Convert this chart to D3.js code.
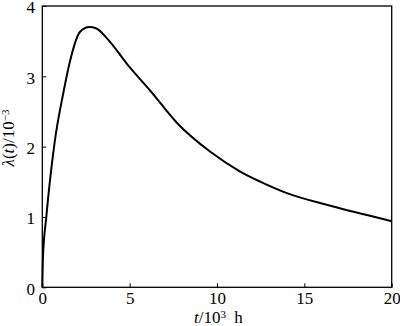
<!DOCTYPE html>
<html>
<head>
<meta charset="utf-8">
<script src="https://cdn.jsdelivr.net/npm/d3@7"></script>
<style>
  body { margin: 0; background: #fff; }
  #chart, #chart text, #chart tspan { font-family: "Liberation Serif", "Times New Roman", Tinos, serif; }
</style>
</head>
<body>
<svg id="chart" width="400" height="326" font-family="Liberation Serif"></svg>
<script>
// time in 10^3 h, failure rate in 10^-3
const tValues = [0, 0.04, 0.23, 0.7, 1.2, 1.6, 2.15, 2.7, 3.1, 3.7, 5.0, 6.2, 7.7, 9.6, 11.3, 12.5, 14.0, 16.5, 17.4, 18.7, 20]
const lambdaValues = [0, 0.44, 1.0, 2.05, 2.76, 3.23, 3.63, 3.70, 3.68, 3.54, 3.13, 2.79, 2.34, 1.93, 1.65, 1.50, 1.34, 1.16, 1.10, 1.02, 0.94]
const xTicks = [0, 5, 10, 15, 20]
const yTicks = [0, 1, 2, 3, 4]

const svg = d3.select("#chart")
const margin = { left: 42.3, right: 8.3, top: 6, bottom: 38.7 }
const w = 400 - margin.left - margin.right
const h = 326 - margin.top - margin.bottom

const x = d3.scaleLinear().domain([0, 20]).range([0, w])
const y = d3.scaleLinear().domain([0, 4]).range([h, 0])

const g = svg.append("g").attr("transform", `translate(${margin.left},${margin.top})`)

// frame
g.append("rect")
  .attr("width", w)
  .attr("height", h)
  .attr("fill", "none")
  .attr("stroke", "#000")
  .attr("stroke-width", 1.3)

const xAxis = g.append("g")
  .attr("transform", `translate(0,${h})`)
  .call(d3.axisBottom(x).tickValues(xTicks).tickFormat(d3.format("d"))
    .tickSizeInner(-4).tickSizeOuter(0).tickPadding(5))
const yAxis = g.append("g")
  .call(d3.axisLeft(y).tickValues(yTicks).tickFormat(d3.format("d"))
    .tickSizeInner(-4).tickSizeOuter(0).tickPadding(9))

for (const ax of [xAxis, yAxis]) {
  ax.attr("font-family", "Liberation Serif").attr("font-size", 17)
  ax.select(".domain").remove()
  ax.selectAll("line").attr("stroke", "#000").attr("stroke-width", 1)
  ax.selectAll("text").attr("fill", "#000")
}
yAxis.selectAll("text").attr("dx", "0.1em").attr("dy", "0.41em")

const line = d3.line()
  .x((d, i) => x(tValues[i]))
  .y((d) => y(d))
  .curve(d3.curveMonotoneX)

g.append("path")
  .datum(lambdaValues)
  .attr("d", line)
  .attr("fill", "none")
  .attr("stroke", "#000")
  .attr("stroke-width", 2)

// axis titles
const xt = svg.append("text")
  .attr("x", 194)
  .attr("y", 323)
  .attr("font-size", 17)
xt.append("tspan").attr("font-style", "italic").text("t")
xt.append("tspan").text("/10")
xt.append("tspan").attr("dy", -5).attr("font-size", 11).text("3")
xt.append("tspan").attr("dy", 5).attr("dx", 4).text(" h")

const yt = svg.append("text")
  .attr("transform", "translate(14,138) rotate(-90)")
  .attr("text-anchor", "middle")
  .attr("font-size", 17)
yt.append("tspan").attr("font-style", "italic").text("λ")
yt.append("tspan").text("(")
yt.append("tspan").attr("font-style", "italic").text("t")
yt.append("tspan").text(")/10")
yt.append("tspan").attr("dy", -5).attr("font-size", 11).text("−3")
</script>
</body>
</html>
